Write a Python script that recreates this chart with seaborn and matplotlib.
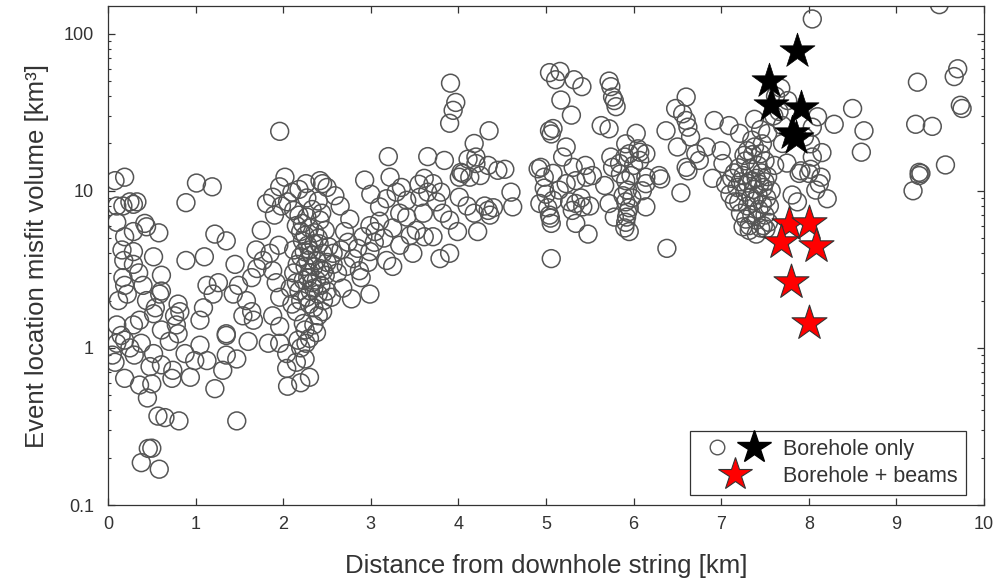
import matplotlib
matplotlib.use('Agg')
import matplotlib.pyplot as plt
from matplotlib.lines import Line2D
from matplotlib.legend_handler import HandlerTuple
from matplotlib import ticker
import pandas as pd
import seaborn as sns

# circles: all events (distance km, misfit volume km^3)
circ_x = [
    # 0 - 1 km
    0.08, 0.19, 0.10, 0.17, 0.25, 0.33, 0.29, 0.10, 0.42, 0.44, 0.58, 0.29, 0.19, 0.16, 0.29, 0.52,
    0.18, 0.29, 0.89, 0.61, 0.17, 0.19, 0.12, 0.44, 0.61, 0.59, 0.54, 0.80, 0.82, 0.76, 0.61, 0.78,
    0.29, 0.10, 0.36, 0.52, 0.10, 0.19, 0.08, 0.19, 0.36, 0.50, 0.45, 0.38, 0.52, 0.48, 0.61, 0.73,
    0.74, 0.80, 0.94, 0.88, 0.99, 0.38, 0.46, 0.50, 0.585, 0.57, 0.65, 0.81, 0.89, 0.05, 0.25, 0.15,
    0.30, 0.22, 0.35, 0.40, 0.70,
    # 1 - 2 km
    1.01, 1.19, 1.22, 1.35, 1.13, 1.26, 1.20, 1.09, 1.49, 1.64, 1.43, 1.58, 1.64, 1.54, 1.66, 1.05,
    1.35, 1.05, 1.13, 1.31, 1.35, 1.47, 1.35, 1.47, 1.22, 1.75, 1.81, 1.88, 1.96, 1.69, 1.77, 1.85,
    1.88, 1.92, 1.96, 1.88, 1.96, 1.83, 1.96, 1.96, 1.60, 1.70, 1.95, 1.90, 1.98, 1.10, 1.45,
    # 2 - 2.6 km
    2.02, 2.26, 2.42, 2.15, 2.23, 2.04, 2.15, 2.04, 2.26, 2.17, 2.05, 2.45, 2.59, 2.57, 2.57, 2.55,
    2.05, 2.10, 2.12, 2.15, 2.18, 2.20, 2.22, 2.25, 2.28, 2.30, 2.32, 2.35, 2.38, 2.40, 2.42, 2.45,
    2.48, 2.50, 2.52, 2.20, 2.25, 2.28, 2.30, 2.33, 2.35, 2.38, 2.40, 2.43, 2.46, 2.50, 2.12, 2.15,
    2.18, 2.20, 2.23, 2.27, 2.30, 2.35, 2.40, 2.45, 2.25, 2.30, 2.20, 2.35, 2.10, 2.08, 2.12, 2.16,
    2.22, 2.27, 2.30, 2.36, 2.42, 2.48, 2.33, 2.27, 2.18, 2.40, 2.44, 2.50, 2.35, 2.41, 2.28, 2.31,
    2.24, 2.46, 2.38, 2.25, 2.30, 2.20,
    # 2.6 - 3.5 km
    2.93, 3.22, 2.76, 2.74, 2.66, 2.80, 2.72, 2.87, 2.89, 2.97, 2.99, 2.78, 2.99, 3.10, 2.91, 3.04,
    2.99, 3.18, 3.25, 3.29, 3.41, 3.18, 3.10, 3.33, 3.41, 3.33, 3.48, 3.20, 2.65, 2.70, 2.85, 3.05,
    3.15, 3.25, 3.45, 3.00, 3.35, 2.62, 2.68,
    # 3.5 - 4.5 km
    3.91, 3.97, 3.94, 3.90, 4.35, 4.18, 4.11, 4.20, 4.34, 4.20, 4.03, 3.65, 3.84, 3.61, 3.71, 4.01,
    4.13, 4.05, 3.56, 3.65, 3.80, 3.60, 3.82, 4.01, 4.18, 4.34, 4.36, 4.22, 3.99, 3.52, 3.61, 3.71,
    3.79, 3.90, 3.75, 3.90, 4.10, 4.30, 4.40, 3.55, 4.25, 4.45,
    # 4.5 - 5.5 km
    4.53, 4.60, 4.62, 4.93, 4.91, 5.04, 5.04, 5.16, 5.11, 5.32, 5.41, 5.17, 5.29, 5.08, 5.06, 5.08,
    5.23, 5.19, 5.31, 4.94, 4.98, 5.08, 5.04, 5.06, 4.98, 5.15, 5.23, 5.34, 5.46, 5.53, 5.27, 5.34,
    5.30, 5.42, 5.34, 5.48, 5.06, 5.00, 5.02, 5.05, 5.40, 5.50, 5.45,
    # 5.5 - 6.6 km
    5.72, 5.74, 5.76, 5.78, 5.80, 5.63, 5.72, 6.03, 5.91, 5.90, 5.95, 6.07, 6.14, 5.74, 5.76, 5.84,
    6.07, 6.29, 6.14, 5.67, 5.72, 5.78, 5.91, 5.93, 5.91, 5.93, 5.91, 5.95, 5.90, 6.14, 6.31, 6.14,
    6.54, 6.38, 6.62, 5.88, 5.95, 5.92, 5.97, 6.00, 6.05, 5.85, 5.98, 6.10,
    # 6.4 - 7.1 km
    6.60, 6.48, 6.56, 6.60, 6.62, 6.37, 6.50, 6.92, 7.09, 7.21, 6.71, 6.83, 6.75, 7.00, 7.02, 6.60,
    6.65, 6.90, 7.05, 7.10,
    # 7.1 - 7.7 km
    7.38, 7.28, 7.22, 7.34, 7.51, 7.53, 7.47, 7.45, 7.61, 7.76, 7.15, 7.18, 7.20, 7.22, 7.25, 7.27,
    7.28, 7.30, 7.30, 7.32, 7.33, 7.35, 7.36, 7.37, 7.38, 7.40, 7.40, 7.42, 7.42, 7.43, 7.44, 7.45,
    7.46, 7.47, 7.48, 7.50, 7.50, 7.52, 7.53, 7.54, 7.55, 7.38, 7.30, 7.26, 7.35, 7.45, 7.32, 7.25,
    7.40, 7.48, 7.20, 7.12, 7.15, 7.35, 7.50, 7.57, 7.60, 7.62, 7.68, 7.66, 7.70,
    # 7.7 - 8.7 km
    8.04, 8.50, 8.63, 8.60, 8.29, 8.10, 8.04, 8.02, 8.04, 7.91, 8.02, 8.14, 7.81, 7.87, 8.00, 8.12,
    8.21, 8.08, 7.89, 7.70, 7.95, 8.15, 7.75,
    # 9 - 10 km
    9.49, 9.24, 9.70, 9.66, 9.73, 9.75, 9.22, 9.41, 9.56, 9.26, 9.28, 9.19, 9.26,
]
circ_y = [
    # 0 - 1 km
    11.6, 12.2, 8.0, 8.0, 8.5, 8.5, 8.2, 6.3, 6.2, 5.9, 5.4, 5.5, 5.1, 4.2, 4.1, 3.8,
    3.6, 3.4, 3.6, 2.9, 2.8, 2.5, 2.0, 2.0, 2.3, 2.2, 1.8, 1.9, 1.7, 1.6, 1.3, 1.4,
    1.4, 1.4, 1.5, 1.65, 1.07, 1.12, 0.81, 0.64, 0.58, 0.59, 0.48, 1.07, 0.92, 0.76, 0.78, 0.64,
    0.72, 1.23, 0.65, 0.92, 0.83, 0.186, 0.229, 0.23, 0.169, 0.368, 0.36, 0.343, 8.4, 0.9, 1.0, 1.2,
    0.9, 2.2, 3.0, 2.5, 1.1,
    # 1 - 2 km
    11.2, 10.6, 5.3, 4.8, 2.5, 2.6, 2.2, 1.8, 2.5, 2.8, 2.2, 2.0, 1.7, 1.6, 1.5, 1.5,
    1.2, 1.04, 0.83, 0.72, 0.9, 0.85, 1.23, 0.343, 0.55, 5.6, 8.3, 9.1, 10.6, 4.2, 3.6, 4.0,
    3.1, 2.6, 2.1, 1.6, 1.37, 1.07, 1.07, 23.9, 1.1, 3.2, 4.5, 7.0, 8.0, 3.8, 3.4,
    # 2 - 2.6 km
    12.2, 11.1, 11.6, 1.7, 1.43, 0.92, 0.81, 0.74, 1.07, 1.12, 0.57, 11.1, 9.3, 4.0, 3.4, 2.1,
    8.5, 9.8, 7.5, 6.0, 7.0, 5.5, 4.8, 5.2, 4.5, 4.2, 3.9, 4.6, 3.6, 5.0, 3.2, 4.0,
    2.9, 3.5, 4.4, 3.8, 3.3, 2.8, 3.0, 2.6, 2.4, 2.7, 2.2, 2.5, 2.0, 2.3, 3.0, 2.6,
    2.3, 2.0, 2.7, 2.1, 1.9, 1.8, 1.6, 1.7, 1.3, 1.15, 1.0, 1.4, 1.9, 2.4, 4.2, 3.4,
    6.2, 6.8, 5.8, 5.4, 6.5, 5.6, 7.6, 9.0, 10.2, 8.6, 7.2, 10.5, 3.3, 4.6, 3.6, 2.3,
    4.1, 3.1, 1.25, 0.85, 0.65, 0.6,
    # 2.6 - 3.5 km
    11.7, 12.2, 6.6, 4.7, 4.2, 3.7, 3.3, 3.1, 2.8, 3.5, 2.2, 2.05, 6.0, 6.4, 5.1, 4.7,
    4.1, 3.6, 3.3, 9.8, 8.7, 8.9, 7.9, 7.2, 6.8, 4.5, 4.0, 16.5, 8.0, 5.5, 4.3, 5.5,
    5.0, 5.8, 5.2, 9.5, 10.5, 3.0, 2.4,
    # 3.5 - 4.5 km
    48.4, 36.5, 32.5, 26.9, 24.1, 20.0, 15.9, 16.4, 14.5, 14.9, 13.1, 16.5, 15.6, 12.0, 11.1, 12.2,
    12.2, 12.9, 9.1, 9.8, 9.8, 7.2, 7.2, 9.1, 7.2, 7.5, 7.0, 5.5, 5.5, 5.6, 5.1, 5.1,
    3.7, 4.0, 8.5, 6.5, 8.0, 8.0, 7.8, 11.0, 12.5, 13.5,
    # 4.5 - 5.5 km
    13.7, 9.8, 7.9, 8.3, 13.8, 56.5, 24.1, 57.5, 50.9, 50.9, 46.0, 37.8, 30.3, 24.9, 23.0, 12.9,
    19.0, 16.4, 14.1, 14.1, 10.4, 8.7, 7.0, 6.2, 12.2, 10.1, 11.1, 11.6, 12.2, 12.5, 8.5, 8.3,
    7.5, 7.9, 6.2, 5.3, 3.7, 9.5, 7.8, 6.7, 9.0, 8.0, 14.5,
    # 5.5 - 6.6 km
    49.9, 46.0, 39.5, 37.5, 34.3, 26.0, 24.8, 23.2, 19.9, 16.4, 17.2, 17.6, 17.2, 16.4, 14.1, 14.9,
    15.6, 12.5, 12.2, 10.8, 8.3, 6.8, 11.6, 10.1, 8.5, 7.3, 6.3, 5.5, 5.8, 11.1, 11.9, 7.9,
    9.7, 4.3, 13.4, 9.3, 7.8, 6.8, 12.5, 14.5, 18.5, 12.8, 9.0, 10.0,
    # 6.4 - 7.1 km
    39.5, 33.4, 30.9, 28.0, 25.4, 24.1, 19.0, 28.0, 26.0, 23.2, 17.2, 19.0, 15.6, 18.0, 14.9, 14.1,
    22.0, 12.0, 11.0, 9.5,
    # 7.1 - 7.7 km
    28.5, 6.6, 11.4, 9.1, 5.7, 23.2, 19.9, 17.2, 14.5, 37.5, 13.0, 10.5, 8.5, 7.2, 12.5, 9.8,
    15.5, 8.0, 11.2, 6.0, 13.8, 7.0, 17.0, 10.2, 8.6, 12.0, 6.5, 14.5, 9.4, 7.6, 11.0, 5.8,
    13.0, 8.2, 10.5, 7.0, 15.5, 9.0, 12.3, 6.3, 8.0, 19.0, 18.0, 16.8, 21.0, 24.5, 5.6, 5.9,
    5.3, 6.0, 14.0, 12.0, 8.5, 11.6, 11.4, 10.0, 30.0, 40.0, 45.0, 32.0, 26.0,
    # 7.7 - 8.7 km
    124.0, 33.4, 24.1, 17.6, 26.5, 29.6, 25.4, 19.9, 16.4, 13.4, 13.7, 12.2, 9.4, 8.5, 12.9, 11.1,
    8.9, 10.1, 12.9, 20.0, 22.0, 17.5, 15.0,
    # 9 - 10 km
    153.0, 49.1, 59.8, 53.3, 35.0, 33.4, 26.5, 25.7, 14.6, 13.1, 12.9, 10.0, 12.5,
]

# stars: borehole only (black) and borehole + beams (red)
bh_x = [7.86, 7.55, 7.57, 7.91, 7.81, 7.85]
bh_y = [78.0, 50.3, 35.0, 33.4, 23.2, 21.8]
beam_x = [7.77, 8.00, 7.68, 8.08, 7.80, 8.00]
beam_y = [6.18, 6.2, 4.72, 4.48, 2.62, 1.43]

sns.set_style('ticks')
plt.rcParams['font.family'] = ['Liberation Sans', 'DejaVu Sans']
text_col = '#333333'

fig = plt.figure(figsize=(9.97, 5.85), dpi=100)
ax = fig.add_axes([108 / 997, 1 - 505 / 585, 876 / 997, 499 / 585])

df_c = pd.DataFrame({'dist': circ_x, 'vol': circ_y})
df_b = pd.DataFrame({'dist': bh_x, 'vol': bh_y})
df_r = pd.DataFrame({'dist': beam_x, 'vol': beam_y})

sns.scatterplot(data=df_c, x='dist', y='vol', ax=ax, marker='o', s=165,
                facecolor='none', edgecolor='#555555', linewidth=1.1, legend=False)
sns.scatterplot(data=df_b, x='dist', y='vol', ax=ax, marker='*', s=700,
                color='black', edgecolor='black', linewidth=0.5, legend=False, zorder=3)
sns.scatterplot(data=df_r, x='dist', y='vol', ax=ax, marker='*', s=700,
                color='red', edgecolor='#333333', linewidth=0.8, legend=False, zorder=3)

ax.set_yscale('log')
ax.set_xlim(0, 10)
ax.set_ylim(0.1, 150)
ax.set_xticks(range(0, 11))
ax.yaxis.set_major_locator(ticker.FixedLocator([0.1, 1, 10, 100]))
ax.yaxis.set_major_formatter(ticker.FixedFormatter(['0.1', '1', '10', '100']))
ax.yaxis.set_minor_locator(ticker.LogLocator(base=10, subs=range(2, 10)))
ax.yaxis.set_minor_formatter(ticker.NullFormatter())

ax.tick_params(which='both', direction='in', top=True, right=True, colors=text_col,
               labelsize=13)
ax.tick_params(which='major', length=4.7, width=0.9, pad=8)
ax.tick_params(which='minor', length=2.5, width=0.8)
ax.tick_params(axis='y', which='major', pad=10)
for sp in ax.spines.values():
    sp.set_visible(True)
    sp.set_linewidth(0.9)
    sp.set_color(text_col)

ax.set_xlabel('Distance from downhole string [km]', fontsize=18.5, color=text_col, labelpad=15)
ax.set_ylabel('Event location misfit volume [km³]', fontsize=18.5, color=text_col, labelpad=11)

# legend: circle + black star on the first row, red star on the second
h_circ = Line2D([], [], linestyle='none', marker='o', markersize=10.5,
                markerfacecolor='none', markeredgecolor='#555555', markeredgewidth=1.0)
h_bh = Line2D([], [], linestyle='none', marker='*', markersize=25,
              color='black', markeredgecolor='black')
h_beam = Line2D([], [], linestyle='none', marker='*', markersize=25,
                color='red', markeredgecolor='#333333', markeredgewidth=0.8)
leg = ax.legend([(h_circ, h_bh), h_beam], ['Borehole only', 'Borehole + beams'],
                handler_map={tuple: HandlerTuple(ndivide=None, pad=0)},
                loc='lower right', bbox_to_anchor=(966 / 997, 1 - 495 / 585),
                bbox_transform=fig.transFigure, borderaxespad=0,
                fontsize=15.5, handlelength=3.45, handletextpad=0.5,
                labelspacing=0.28, borderpad=0.38, fancybox=False, framealpha=1)
leg.get_frame().set_edgecolor(text_col)
leg.get_frame().set_linewidth(0.9)
for t in leg.get_texts():
    t.set_color(text_col)

fig.savefig('out.png', dpi=100)
